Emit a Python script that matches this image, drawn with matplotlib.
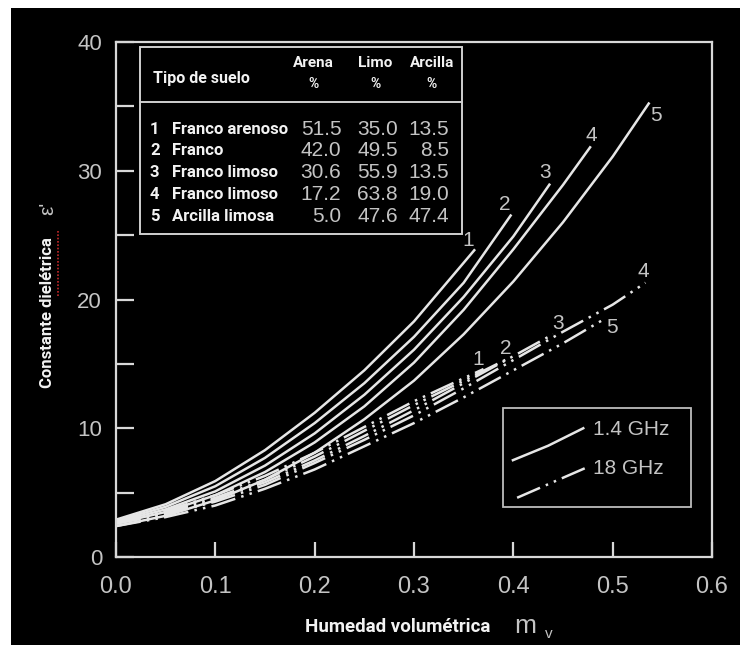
import matplotlib
matplotlib.use("Agg")
import matplotlib.pyplot as plt
from matplotlib.lines import Line2D
from matplotlib.patches import Rectangle

# ---------------- data ----------------
soil_ids = ["1", "2", "3", "4", "5"]
soil_names = ["Franco arenoso", "Franco", "Franco limoso", "Franco limoso", "Arcilla limosa"]
arena = ["51.5", "42.0", "30.6", "17.2", "5.0"]
limo = ["35.0", "49.5", "55.9", "63.8", "47.6"]
arcilla = ["13.5", "8.5", "13.5", "19.0", "47.4"]

# 1.4 GHz curves (solid)
x_14_1 = [0, 0.05, 0.10, 0.15, 0.20, 0.25, 0.30, 0.3615]
y_14_1 = [2.9, 4.1, 5.9, 8.3, 11.2, 14.5, 18.3, 23.9]
x_14_2 = [0, 0.05, 0.10, 0.15, 0.20, 0.25, 0.30, 0.35, 0.398]
y_14_2 = [2.8, 3.9, 5.5, 7.7, 10.4, 13.5, 17.1, 21.3, 26.6]
x_14_3 = [0, 0.05, 0.10, 0.15, 0.20, 0.25, 0.30, 0.35, 0.40, 0.437]
y_14_3 = [2.7, 3.7, 5.1, 7.1, 9.6, 12.6, 16.1, 20.2, 24.9, 29.0]
x_14_4 = [0, 0.05, 0.10, 0.15, 0.20, 0.25, 0.30, 0.35, 0.40, 0.45, 0.478]
y_14_4 = [2.6, 3.5, 4.8, 6.6, 8.9, 11.7, 15.1, 19.2, 23.9, 28.9, 31.9]
x_14_5 = [0, 0.05, 0.10, 0.15, 0.20, 0.25, 0.30, 0.35, 0.40, 0.45, 0.50, 0.537]
y_14_5 = [2.4, 3.2, 4.4, 6.0, 8.1, 10.7, 13.7, 17.3, 21.4, 26.0, 31.1, 35.3]

# 18 GHz curves (dash-dot-dot)
x_18_1 = [0, 0.05, 0.10, 0.15, 0.20, 0.25, 0.30, 0.37]
y_18_1 = [2.8, 3.6, 4.8, 6.3, 8.1, 10.1, 12.1, 14.6]
x_18_2 = [0, 0.05, 0.10, 0.15, 0.20, 0.25, 0.30, 0.35, 0.397]
y_18_2 = [2.7, 3.5, 4.6, 6.0, 7.8, 9.8, 11.8, 13.7, 15.5]
x_18_3 = [0, 0.05, 0.10, 0.15, 0.20, 0.25, 0.30, 0.35, 0.40, 0.44]
y_18_3 = [2.6, 3.4, 4.5, 5.8, 7.5, 9.4, 11.4, 13.5, 15.6, 17.3]
x_18_4 = [0, 0.05, 0.10, 0.15, 0.20, 0.25, 0.30, 0.35, 0.40, 0.45, 0.50, 0.533]
y_18_4 = [2.6, 3.3, 4.3, 5.6, 7.3, 9.1, 11.0, 13.1, 15.3, 17.5, 19.6, 21.3]
x_18_5 = [0, 0.05, 0.10, 0.15, 0.20, 0.25, 0.30, 0.35, 0.40, 0.45, 0.492]
y_18_5 = [2.4, 3.1, 4.0, 5.3, 6.8, 8.6, 10.4, 12.4, 14.5, 16.6, 18.5]

x_ticks = [0.0, 0.1, 0.2, 0.3, 0.4, 0.5, 0.6]
x_tick_labels = ["0.0", "0.1", "0.2", "0.3", "0.4", "0.5", "0.6"]
y_ticks = [0, 10, 20, 30, 40]
y_minor = [5, 15, 25, 35]

legend_labels = ["1.4 GHz", "18 GHz"]

# ---------------- style ----------------
BOLD = ["Roboto", "DejaVu Sans"]
REG = ["Liberation Sans", "DejaVu Sans"]
LINE_C = "#e6e6e6"
TXT_G = "#c4c4c4"
TXT_W = "#f2f2f2"
LW = 1.8
DASH = (0, (10, 2.5, 1, 2.5, 1, 2.5))

fig = plt.figure(figsize=(7.4, 6.45), dpi=100, facecolor="white")
fig.patches.append(Rectangle((11 / 740, 0), 1, 1 - 8 / 645, transform=fig.transFigure,
                             facecolor="black", edgecolor="none", zorder=-10))

ax = fig.add_axes([116 / 740, 1 - 557 / 645, (712 - 116) / 740, (557 - 42) / 645])
ax.set_zorder(2)
ax.set_facecolor("black")
ax.set_xlim(0, 0.6)
ax.set_ylim(0, 40)

for s in ax.spines.values():
    s.set_color("#d8d8d8")
    s.set_linewidth(1.6)

ax.set_xticks(x_ticks)
ax.set_xticklabels(x_tick_labels, family=REG, fontsize=17, color=TXT_G)
ax.set_yticks(y_ticks)
ax.set_yticklabels([str(v) for v in y_ticks], family=REG, fontsize=16, color=TXT_G)
ax.set_yticks(y_minor, minor=True)
ax.tick_params(axis="x", direction="in", length=11, width=1.6, color="#d8d8d8", pad=14)
ax.tick_params(axis="y", which="both", direction="in", length=13, width=1.6,
               color="#d8d8d8", pad=10)

solid = [(x_14_1, y_14_1), (x_14_2, y_14_2), (x_14_3, y_14_3), (x_14_4, y_14_4), (x_14_5, y_14_5)]
dashed = [(x_18_1, y_18_1), (x_18_2, y_18_2), (x_18_3, y_18_3), (x_18_4, y_18_4), (x_18_5, y_18_5)]

solid_off = [(-5, 6.5), (-4.5, 7), (-3.5, 8), (0, 8), (5, -9)]
dash_off = [(-3.5, 7), (-3.5, 6.5), (3.5, 8), (-1.5, 8), (5, -6)]

for (xs, ys), lab, off in zip(solid, soil_ids, solid_off):
    ax.plot(xs, ys, color=LINE_C, lw=LW, solid_capstyle="butt", solid_joinstyle="round")
    ax.annotate(lab, (xs[-1], ys[-1]), xytext=off, textcoords="offset points",
                ha="center", va="center", family=REG, fontsize=15, color=TXT_G)

for (xs, ys), lab, off in zip(dashed, soil_ids, dash_off):
    ax.plot(xs, ys, color=LINE_C, lw=LW, linestyle=DASH)
    ax.annotate(lab, (xs[-1], ys[-1]), xytext=off, textcoords="offset points",
                ha="center", va="center", family=REG, fontsize=15, color=TXT_G)

# ---------------- table ----------------
T = ax.transAxes
ax.add_patch(Rectangle((0.040, 0.627), 0.541, 0.363, transform=T, fill=False,
                       edgecolor="#d0d0d0", lw=1.4, zorder=5))
ax.add_line(Line2D([0.040, 0.581], [0.883, 0.883], transform=T, color="#d0d0d0", lw=1.4))
ax.text(0.062, 0.930, "Tipo de suelo", transform=T, family=BOLD, weight="bold",
        fontsize=11.5, color=TXT_W, ha="left", va="center")
for cx, h in zip([0.332, 0.435, 0.530], ["Arena", "Limo", "Arcilla"]):
    ax.text(cx, 0.959, h, transform=T, family=BOLD, weight="bold", fontsize=11,
            color=TXT_W, ha="center", va="center")
    ax.text(cx, 0.918, "%", transform=T, family=BOLD, weight="bold", fontsize=10,
            color=TXT_W, ha="center", va="center")

row_y = [0.831, 0.790, 0.746, 0.703, 0.662]
for yy, sid, nm, a, l, c in zip(row_y, soil_ids, soil_names, arena, limo, arcilla):
    ax.text(0.065, yy, sid, transform=T, family=BOLD, weight="bold", fontsize=12,
            color=TXT_W, ha="center", va="center")
    ax.text(0.094, yy, nm, transform=T, family=BOLD, weight="bold", fontsize=12,
            color=TXT_W, ha="left", va="center")
    for xr, v in zip([0.378, 0.473, 0.559], [a, l, c]):
        ax.text(xr, yy, v, transform=T, family=REG, fontsize=15, color=TXT_G,
                ha="right", va="center")

# ---------------- legend ----------------
ax.add_patch(Rectangle((0.649, 0.097), 0.316, 0.192, transform=T, fill=False,
                       edgecolor="#bdbdbd", lw=1.3, zorder=5))
ax.add_line(Line2D([0.666, 0.725, 0.784], [0.188, 0.216, 0.250], transform=T,
                   color=LINE_C, lw=LW))
ax.add_line(Line2D([0.673, 0.792], [0.115, 0.175], transform=T,
                   color=LINE_C, lw=LW, linestyle=DASH))
ax.text(0.80, 0.247, legend_labels[0], transform=T, family=REG, fontsize=15,
        color=TXT_G, ha="left", va="center")
ax.text(0.80, 0.171, legend_labels[1], transform=T, family=REG, fontsize=15,
        color=TXT_G, ha="left", va="center")

# ---------------- axis labels ----------------
fig.text(398 / 740, 1 - 627 / 645, "Humedad volumétrica", family=BOLD, weight="bold",
         fontsize=13.5, color=TXT_W, ha="center", va="center")
fig.text(514 / 740, 1 - 626 / 645, "m", family=REG, fontsize=19, color=TXT_G,
         ha="left", va="center")
fig.text(545 / 740, 1 - 634 / 645, "v", family=REG, fontsize=11, color=TXT_G,
         ha="left", va="center")

fig.text(48 / 740, 1 - 313 / 645, "Constante dielétrica", family=BOLD, weight="bold",
         fontsize=12, color=TXT_W, ha="center", va="center", rotation=90)
fig.text(48 / 740, 1 - 208 / 645, "ε'", family=REG, fontsize=15, color=TXT_G,
         ha="center", va="center", rotation=90)
fig.add_artist(Line2D([58 / 740, 58 / 740], [1 - 296 / 645, 1 - 231 / 645],
                      transform=fig.transFigure, color="#c0282a", lw=1.2,
                      linestyle=(0, (1, 1))))

fig.savefig("out.png", dpi=100, facecolor=fig.get_facecolor())
